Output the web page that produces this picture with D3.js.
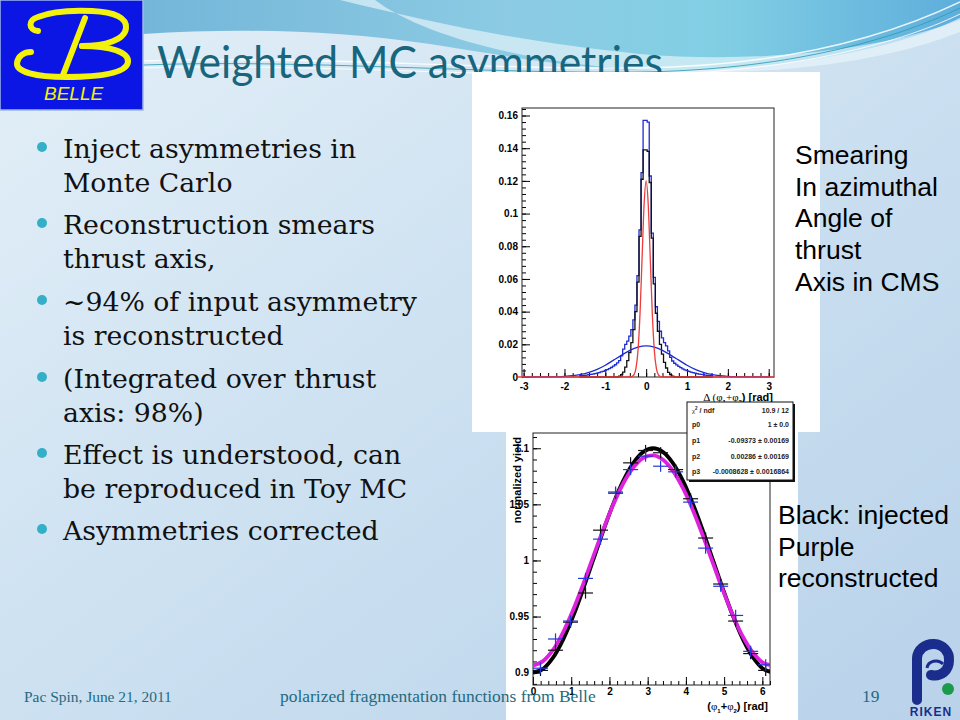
<!DOCTYPE html>
<html>
<head>
<meta charset="utf-8">
<script src="https://cdn.jsdelivr.net/npm/d3@7"></script>
<style>
  body { margin: 0; background: #fff; }
  svg { display: block; }
</style>
</head>
<body>
<div id="slide"></div>
<script>
// ---------- slide text ----------
const titleText = "Weighted MC asymmetries";
const bullets = [
  ["Inject asymmetries in", "Monte Carlo"],
  ["Reconstruction smears", "thrust axis,"],
  ["~94% of input asymmetry", "is reconstructed"],
  ["(Integrated over thrust", "axis: 98%)"],
  ["Effect is understood, can", "be reproduced in Toy MC"],
  ["Asymmetries corrected"]
];
const noteTop = ["Smearing", "In azimuthal", "Angle of", "thrust", "Axis in CMS"];
const noteBottom = ["Black: injected", "Purple", "reconstructed"];
const footerLeft = "Pac Spin, June 21, 2011";
const footerMid = "polarized fragmentation functions from Belle";
const pageNo = "19";

// ---------- top plot: smearing of azimuthal angle ----------
const dBinWidth = 0.05;
const dBinIndex = d3.range(-32, 33);
const smearBlue = [
  0.0008, 0.0009, 0.0010, 0.0012, 0.0014, 0.0016, 0.0018, 0.0021, 0.0024, 0.0027,
  0.0031, 0.0035, 0.0040, 0.0045, 0.0051, 0.0058, 0.0066, 0.0075, 0.0086,
  0.010, 0.013, 0.017, 0.020, 0.022, 0.025, 0.029, 0.035, 0.044, 0.062, 0.090, 0.125, 0.157,
  0.157,
  0.156, 0.123, 0.088, 0.061, 0.043, 0.034, 0.028, 0.024, 0.021, 0.019, 0.016, 0.012, 0.0098,
  0.0084, 0.0074, 0.0065, 0.0057, 0.0050, 0.0044, 0.0039, 0.0034, 0.0030, 0.0027,
  0.0024, 0.0021, 0.0018, 0.0016, 0.0014, 0.0012, 0.0010, 0.0009, 0.0008
];
const smearBlack = [
  0, 0, 0, 0, 0, 0, 0, 0, 0, 0, 0, 0, 0, 0, 0, 0, 0, 0, 0,
  0.0005, 0.0015, 0.003, 0.006, 0.010, 0.015, 0.021, 0.029, 0.040, 0.058, 0.086, 0.121, 0.139,
  0.139,
  0.138, 0.119, 0.085, 0.057, 0.039, 0.028, 0.020, 0.014, 0.009, 0.0055, 0.0028, 0.0014, 0.0005,
  0, 0, 0, 0, 0, 0, 0, 0, 0, 0, 0, 0, 0, 0, 0, 0, 0, 0, 0
];
const narrowFitX = [-3.14, -0.45, -0.40, -0.35, -0.30, -0.25, -0.20, -0.15, -0.10, -0.05, 0,
  0.05, 0.10, 0.15, 0.20, 0.25, 0.30, 0.35, 0.40, 0.45, 3.14];
const narrowFitY = [0, 0, 0.0001, 0.0003, 0.0013, 0.0053, 0.0162, 0.039, 0.0728, 0.1059, 0.12,
  0.1059, 0.0728, 0.039, 0.0162, 0.0053, 0.0013, 0.0003, 0.0001, 0, 0];
const wideFitX = [-3.0, -2.4, -2.2, -2.0, -1.8, -1.6, -1.4, -1.2, -1.0, -0.8, -0.6, -0.4, -0.2, 0,
  0.2, 0.4, 0.6, 0.8, 1.0, 1.2, 1.4, 1.6, 1.8, 2.0, 2.2, 2.4, 3.0];
const wideFitY = [0, 0.0001, 0.0002, 0.0004, 0.0008, 0.0016, 0.0029, 0.0047, 0.0072, 0.0103, 0.0134, 0.0163, 0.0183, 0.019,
  0.0183, 0.0163, 0.0134, 0.0103, 0.0072, 0.0047, 0.0029, 0.0016, 0.0008, 0.0004, 0.0002, 0.0001, 0];
const topXTicks = [-3, -2, -1, 0, 1, 2, 3];
const topYTicks = [0, 0.02, 0.04, 0.06, 0.08, 0.1, 0.12, 0.14, 0.16];

// ---------- bottom plot: normalized yield vs phi1+phi2 ----------
const phiCenters = [0.196, 0.589, 0.982, 1.374, 1.767, 2.160, 2.553, 2.945,
  3.338, 3.731, 4.123, 4.516, 4.909, 5.301, 5.694, 6.087];
const phiHalfWidth = 0.196;
const yieldInjected = [0.902, 0.920, 0.945, 0.971, 1.027, 1.060, 1.087, 1.098,
  1.096, 1.081, 1.055, 1.020, 0.979, 0.946, 0.917, 0.902];
const yieldReco = [0.904, 0.930, 0.946, 0.984, 1.019, 1.061, 1.081, 1.093,
  1.084, 1.079, 1.052, 1.011, 0.977, 0.951, 0.919, 0.907];
const yieldErr = [0.005, 0.005, 0.005, 0.005, 0.005, 0.005, 0.005, 0.005,
  0.005, 0.005, 0.005, 0.005, 0.005, 0.005, 0.005, 0.005];
const curvePhi = [0, 0.262, 0.524, 0.785, 1.047, 1.309, 1.571, 1.833, 2.094, 2.356, 2.618, 2.880, 3.142,
  3.403, 3.665, 3.927, 4.189, 4.451, 4.712, 4.974, 5.236, 5.498, 5.760, 6.021, 6.283];
const curveInjected = [0.9, 0.9034, 0.9134, 0.9293, 0.95, 0.9741, 1.0, 1.0259, 1.05, 1.0707, 1.0866, 1.0966, 1.1,
  1.0966, 1.0866, 1.0707, 1.05, 1.0259, 1.0, 0.9741, 0.95, 0.9293, 0.9134, 0.9034, 0.9];
const curveReco = [0.9063, 0.9103, 0.9203, 0.9358, 0.9556, 0.9785, 1.0029, 1.0271, 1.0494, 1.0684, 1.0826, 1.0913, 1.0937,
  1.0898, 1.0797, 1.0642, 1.0444, 1.0215, 0.9971, 0.9729, 0.9506, 0.9316, 0.9175, 0.9088, 0.9063];
const botXTicks = [0, 1, 2, 3, 4, 5, 6];
const botYTicks = [0.9, 0.95, 1, 1.05, 1.1];
const statsRows = [
  ["χ2 / ndf", "10.9 / 12"],
  ["p0", "1 ± 0.0"],
  ["p1", "-0.09373 ± 0.00169"],
  ["p2", "0.00286 ± 0.00169"],
  ["p3", "-0.0008628 ± 0.0016864"]
];

// ---------------------------------------------------------------
const svg = d3.select("#slide").append("svg").attr("width", 960).attr("height", 720);
const defs = svg.append("defs");

var bgGrad = defs.append("linearGradient").attr("id", "bgGrad")
  .attr("x1", 0).attr("y1", 0).attr("x2", 1).attr("y2", 1);
bgGrad.append("stop").attr("offset", "0%").attr("stop-color", "#e4f0f8");
bgGrad.append("stop").attr("offset", "55%").attr("stop-color", "#cadff0");
bgGrad.append("stop").attr("offset", "100%").attr("stop-color", "#b9d2ea");

var waveGrad = defs.append("linearGradient").attr("id", "waveGrad")
  .attr("x1", 0).attr("y1", 0).attr("x2", 1).attr("y2", 0);
waveGrad.append("stop").attr("offset", "0%").attr("stop-color", "#74b6d9");
waveGrad.append("stop").attr("offset", "45%").attr("stop-color", "#8ccbe3");
waveGrad.append("stop").attr("offset", "70%").attr("stop-color", "#82cfe4");
waveGrad.append("stop").attr("offset", "100%").attr("stop-color", "#5eaedc");

svg.append("rect").attr("width", 960).attr("height", 720).attr("fill", "url(#bgGrad)");
svg.append("path")
  .attr("d", "M143,0 H960 V18 C900,48 800,66 700,70 C600,74 520,58 430,44 C330,30 240,28 143,34 Z")
  .attr("fill", "url(#waveGrad)");
svg.append("path")
  .attr("d", "M340,0 C430,22 520,42 640,54 C760,64 880,50 960,20 L960,32 C880,64 760,78 640,70 C520,62 420,34 375,0 Z")
  .attr("fill", "#e9f6fb").attr("opacity", 0.65);
[["M143,61 C300,55 480,70 640,68 C780,66 885,38 960,2", "#ffffff", 1.4],
 ["M143,65 C300,59 480,74 640,72 C780,70 890,42 960,8", "#2d9db5", 1],
 ["M143,68 C300,63 480,77 640,75 C780,73 895,46 960,14", "#ffffff", 1]]
  .forEach(l => svg.append("path").attr("d", l[0]).attr("fill", "none")
    .attr("stroke", l[1]).attr("stroke-width", l[2]).attr("opacity", 0.85));

// fit text width helper
var fitWidth = (sel, w) => {
  const cur = sel.node().getComputedTextLength();
  sel.attr("font-size", parseFloat(sel.attr("font-size")) * w / cur);
};

// title: tall narrow face, squeezed to the reference width
var title = svg.append("text").attr("x", 0).attr("y", 0)
  .attr("font-family", "Lato, 'Open Sans', sans-serif").attr("font-size", 45)
  .attr("fill", "#17667e").text(titleText);
const titleScale = 506 / title.node().getComputedTextLength();
title.attr("transform", `translate(157,78) scale(${titleScale},1)`);

// bullets
var probe = svg.append("text").attr("font-family", "'DejaVu Serif', serif").attr("font-size", 24).text(bullets[2][0]);
fitWidth(probe, 354);
const bulletSize = probe.attr("font-size");
probe.remove();
const bulletBase = [158, 234, 311, 388, 464, 540];
bullets.forEach((lines, i) => {
  svg.append("circle").attr("cx", 42).attr("cy", bulletBase[i] - 11).attr("r", 5).attr("fill", "#33afc8");
  lines.forEach((t, j) => {
    svg.append("text").attr("x", 63).attr("y", bulletBase[i] + j * 34)
      .attr("font-family", "'DejaVu Serif', serif").attr("font-size", bulletSize)
      .attr("fill", "#111").text(t);
  });
});

// plot panels
svg.append("rect").attr("x", 472).attr("y", 72).attr("width", 348).attr("height", 360).attr("fill", "#fff");
svg.append("rect").attr("x", 506).attr("y", 432).attr("width", 292).attr("height", 288).attr("fill", "#fff");

var rootAxes = (x, y, xt, yt, xMinor, yMinor, xPad) => {
  const g = svg.append("g").attr("font-family", "'Liberation Sans', Arial, sans-serif")
    .attr("font-size", 11).attr("font-weight", "bold");
  const [x0, x1] = x.range(), [y0, y1] = y.range();
  const xa = g.append("g").attr("transform", `translate(0,${y0})`)
    .call(d3.axisBottom(x).tickValues(xt).tickSizeInner(-8).tickSizeOuter(0).tickPadding(xPad).tickFormat(d => String(d)));
  const xm = g.append("g").attr("transform", `translate(0,${y0})`)
    .call(d3.axisBottom(x).tickValues(xMinor).tickSizeInner(-4).tickSizeOuter(0).tickFormat(""));
  const ya = g.append("g").attr("transform", `translate(${x0},0)`)
    .call(d3.axisLeft(y).tickValues(yt).tickSizeInner(-8).tickSizeOuter(0).tickPadding(4).tickFormat(d => String(+d.toFixed(3))));
  const ym = g.append("g").attr("transform", `translate(${x0},0)`)
    .call(d3.axisLeft(y).tickValues(yMinor).tickSizeInner(-4).tickSizeOuter(0).tickFormat(""));
  [xa, xm, ya, ym].forEach(a => { a.select(".domain").remove(); a.selectAll("text").attr("fill", "#000"); });
  g.append("rect").attr("x", x0).attr("y", y1).attr("width", x1 - x0).attr("height", y0 - y1)
    .attr("fill", "none").attr("stroke", "#222").attr("stroke-width", 1);
  return g;
};

// ---------- top plot ----------
const topX = d3.scaleLinear().domain([-3.04, 3.13]).range([522, 774]);
const topY = d3.scaleLinear().domain([0, 0.1646]).range([377, 108]);

var histPath = (vals) => {
  const c = dBinIndex.map(k => k * dBinWidth);
  const pts = [[c[0] - dBinWidth / 2, 0]];
  c.forEach((v, i) => pts.push([v - dBinWidth / 2, vals[i]]));
  pts.push([c[c.length - 1] + dBinWidth / 2, vals[vals.length - 1]]);
  pts.push([c[c.length - 1] + dBinWidth / 2, 0]);
  return d3.line().x(d => topX(d[0])).y(d => topY(d[1])).curve(d3.curveStepAfter)(pts);
};
var curvePath = (xs, ys, sx, sy, curve) =>
  d3.line().x(d => sx(d[0])).y(d => sy(d[1])).curve(curve)(xs.map((v, i) => [v, ys[i]]));

rootAxes(topX, topY, topXTicks, topYTicks,
  d3.range(-3, 3.11, 0.2), d3.range(0, 0.165, 0.004), 6);
svg.append("path").attr("d", histPath(smearBlue)).attr("fill", "none").attr("stroke", "#1d2bd2").attr("stroke-width", 1.3);
svg.append("path").attr("d", histPath(smearBlack)).attr("fill", "none").attr("stroke", "#111").attr("stroke-width", 1.3);
svg.append("path").attr("d", curvePath(wideFitX, wideFitY, topX, topY, d3.curveMonotoneX))
  .attr("fill", "none").attr("stroke", "#1d2bd2").attr("stroke-width", 1.3);
svg.append("path").attr("d", curvePath(narrowFitX, narrowFitY, topX, topY, d3.curveMonotoneX))
  .attr("fill", "none").attr("stroke", "#ee3b3b").attr("stroke-width", 1.3);

var topTitle = svg.append("text").attr("x", 773).attr("y", 401).attr("text-anchor", "end")
  .attr("font-family", "'Liberation Sans', Arial, sans-serif").attr("font-size", 11).attr("font-weight", "bold");
topTitle.append("tspan").attr("font-family", "'Liberation Serif', serif").attr("font-weight", "normal").text("Δ (φ");
topTitle.append("tspan").attr("font-size", 6).attr("dy", 3).text("1");
topTitle.append("tspan").attr("dy", -3).attr("font-family", "'Liberation Serif', serif").attr("font-weight", "normal").text("+φ");
topTitle.append("tspan").attr("font-size", 6).attr("dy", 3).text("2");
topTitle.append("tspan").attr("dy", -3).text(") [rad]");

// ---------- bottom plot ----------
const botX = d3.scaleLinear().domain([0, 6.2]).range([533, 770]);
const botY = d3.scaleLinear().domain([0.889, 1.1136]).range([685, 433]);

defs.append("clipPath").attr("id", "botClip").append("rect")
  .attr("x", 533).attr("y", 433).attr("width", 237).attr("height", 252);

rootAxes(botX, botY, botXTicks, botYTicks,
  d3.range(0, 6.21, 0.2), d3.range(0.89, 1.111, 0.01), 3);

const botPlot = svg.append("g").attr("clip-path", "url(#botClip)");
botPlot.append("path").attr("d", curvePath(curvePhi, curveInjected, botX, botY, d3.curveCatmullRom))
  .attr("fill", "none").attr("stroke", "#000").attr("stroke-width", 3.8);
botPlot.append("path").attr("d", curvePath(curvePhi, curveReco, botX, botY, d3.curveCatmullRom))
  .attr("fill", "none").attr("stroke", "#dd22dd").attr("stroke-width", 3.8);

var drawCrosses = (vals, color) => {
  const g = botPlot.append("g").attr("stroke", color).attr("stroke-width", 1.2);
  phiCenters.forEach((c, i) => {
    g.append("line").attr("x1", botX(c - phiHalfWidth)).attr("x2", botX(c + phiHalfWidth))
      .attr("y1", botY(vals[i])).attr("y2", botY(vals[i]));
    g.append("line").attr("x1", botX(c)).attr("x2", botX(c))
      .attr("y1", botY(vals[i] - yieldErr[i])).attr("y2", botY(vals[i] + yieldErr[i]));
  });
};
drawCrosses(yieldInjected, "#111");
drawCrosses(yieldReco, "#2436dc");

var botTitle = svg.append("text").attr("x", 768).attr("y", 710).attr("text-anchor", "end")
  .attr("font-family", "'Liberation Sans', Arial, sans-serif").attr("font-size", 11).attr("font-weight", "bold");
botTitle.append("tspan").text("(");
botTitle.append("tspan").attr("font-family", "'Liberation Serif', serif").attr("font-weight", "normal").text("φ");
botTitle.append("tspan").attr("font-size", 6).attr("dy", 3).text("1");
botTitle.append("tspan").attr("dy", -3).text("+");
botTitle.append("tspan").attr("font-family", "'Liberation Serif', serif").attr("font-weight", "normal").text("φ");
botTitle.append("tspan").attr("font-size", 6).attr("dy", 3).text("2");
botTitle.append("tspan").attr("dy", -3).text(") [rad]");

svg.append("text").attr("transform", "translate(521,437) rotate(-90)").attr("text-anchor", "end")
  .attr("font-family", "'Liberation Sans', Arial, sans-serif").attr("font-size", 11).attr("font-weight", "bold")
  .text("normalized yield");

// stats box
svg.append("rect").attr("x", 689).attr("y", 404).attr("width", 106).attr("height", 78).attr("fill", "#111");
svg.append("rect").attr("x", 687).attr("y", 402).attr("width", 106).attr("height", 78)
  .attr("fill", "#fff").attr("stroke", "#111").attr("stroke-width", 1);
const statsY = [412.5, 427, 442.5, 458.5, 473.5];
statsRows.forEach((r, i) => {
  const t = svg.append("text").attr("x", 692).attr("y", statsY[i])
    .attr("font-family", "'Liberation Sans', Arial, sans-serif").attr("font-size", 7).attr("font-weight", "bold").attr("fill", "#222");
  if (i === 0) {
    t.append("tspan").attr("font-family", "'Liberation Serif', serif").attr("font-weight", "normal").text("χ");
    t.append("tspan").attr("font-size", 4.5).attr("dy", -3).text("2");
    t.append("tspan").attr("dy", 3).text(" / ndf");
  } else {
    t.text(r[0]);
  }
  svg.append("text").attr("x", 789).attr("y", statsY[i]).attr("text-anchor", "end")
    .attr("font-family", "'Liberation Sans', Arial, sans-serif").attr("font-size", 7).attr("font-weight", "bold").attr("fill", "#222")
    .text(r[1]);
});

// side notes
noteTop.forEach((t, i) => svg.append("text").attr("x", 795).attr("y", 164 + i * 31.7)
  .attr("font-family", "'Liberation Sans', Arial, sans-serif").attr("font-size", 26.5).attr("fill", "#000").text(t));
noteBottom.forEach((t, i) => svg.append("text").attr("x", 778).attr("y", 524 + i * 31.7)
  .attr("font-family", "'Liberation Sans', Arial, sans-serif").attr("font-size", 26.5).attr("fill", "#000").text(t));

// footer
var fMid = svg.append("text").attr("x", 280).attr("y", 702)
  .attr("font-family", "'Liberation Serif', serif").attr("font-size", 15).attr("fill", "#1f6b80").text(footerMid);
fitWidth(fMid, 316);
var fLeft = svg.append("text").attr("x", 24).attr("y", 702)
  .attr("font-family", "'Liberation Serif', serif").attr("font-size", 15).attr("fill", "#1f6b80").text(footerLeft);
fitWidth(fLeft, 148);
svg.append("text").attr("x", 862).attr("y", 702)
  .attr("font-family", "'Liberation Serif', serif").attr("font-size", fMid.attr("font-size")).attr("fill", "#1f6b80").text(pageNo);

// Belle logo
const logo = svg.append("g");
logo.append("rect").attr("x", 0).attr("y", 0).attr("width", 143).attr("height", 110).attr("fill", "#0b16e4")
  .attr("stroke", "#9fb8e8").attr("stroke-width", 1.5);
const yel = "#f2f20c";
[
  "M38,31 C28,30 28,20 38,17 C50,12 70,10 92,11 C115,12 127,18 126,28 C125,40 105,46 82,46",
  "M82,46 C110,46 129,52 128,62 C127,73 102,77 66,77 C36,77 16,72 17,63 C18,56 24,52 31,52",
  "M85,18 L63,75"
].forEach(d => logo.append("path").attr("d", d).attr("fill", "none").attr("stroke", yel)
  .attr("stroke-width", 6).attr("stroke-linecap", "round"));
logo.append("text").attr("x", 44).attr("y", 100).attr("font-family", "'Liberation Sans', Arial, sans-serif")
  .attr("font-style", "italic").attr("font-size", 19).attr("fill", yel).text("BELLE");

// RIKEN logo
const rk = svg.append("g");
rk.append("path").attr("d", "M917,700 V658 A16 15 0 0 1 949,660 C949,671 941,677 931,675")
  .attr("fill", "none").attr("stroke", "#1b2d8c").attr("stroke-width", 10).attr("stroke-linecap", "round");
rk.append("path").attr("d", "M927,668 A9 8 0 0 1 943,664")
  .attr("fill", "none").attr("stroke", "#1b2d8c").attr("stroke-width", 3);
rk.append("circle").attr("cx", 948).attr("cy", 689).attr("r", 6).attr("fill", "#1c9a4c");
rk.append("text").attr("x", 931).attr("y", 716).attr("text-anchor", "middle")
  .attr("font-family", "'Liberation Sans', Arial, sans-serif").attr("font-weight", "bold").attr("font-size", 12)
  .attr("letter-spacing", 1).attr("fill", "#1b2d8c").text("RIKEN");
</script>
</body>
</html>
